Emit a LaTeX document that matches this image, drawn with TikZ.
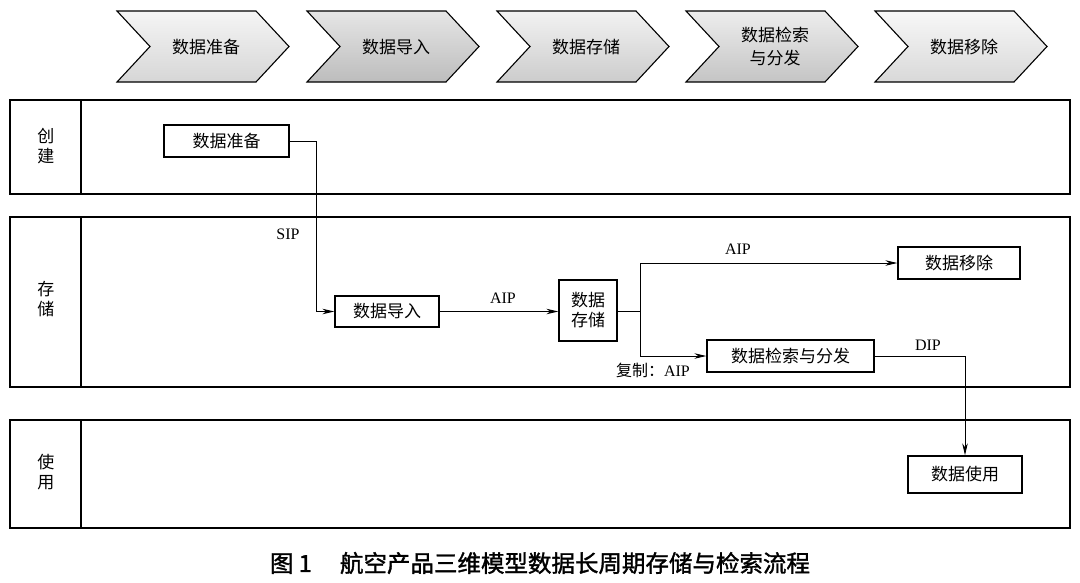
\documentclass[tikz,border=0pt]{standalone}
\usepackage{fontspec}
\setmainfont{Liberation Serif}
\newfontfamily\cjk{Noto Sans CJK SC}
\newfontfamily\cjkcap[FakeBold=1.5]{Noto Sans CJK SC}
\usetikzlibrary{arrows.meta}
\begin{document}
\begin{tikzpicture}[x=1pt,y=-1pt,
  box/.style={draw, line width=1.3pt, inner sep=0pt, align=center, font=\cjk\fontsize{17}{20}\selectfont},
  lane/.style={draw, line width=1.8pt},
  lanelbl/.style={align=center, font=\cjk\fontsize{17}{20.5}\selectfont},
  conn/.style={line width=0.9pt, -{Stealth[length=12pt,width=5.5pt]}},
  lbl/.style={font=\fontsize{16}{18}\selectfont, inner sep=0pt},
  chev/.style={draw, line width=1.1pt, line join=miter},
  chevtxt/.style={align=center, font=\cjk\fontsize{17}{23}\selectfont}]
\useasboundingbox (0,0) rectangle (1080,582);
\fill[white] (0,0) rectangle (1080,582);

% chevrons
\foreach \x/\t/\b/\n/\txt in {117/8/32/c1/{数据准备}, 307/20/52/c2/{数据导入}, 497/10/40/c3/{数据存储}, 686/14/46/c4/{数据检索\\与分发}, 875/6/30/c5/{数据移除}}{
  \shade[top color=gray!\t, bottom color=gray!\b] (\x,11) -- ++(139,0) -- ++(33,35.5) -- ++(-33,35.5) -- ++(-139,0) -- ++(33,-35.5) -- cycle;
  \draw[chev] (\x,11) -- ++(139,0) -- ++(33,35.5) -- ++(-33,35.5) -- ++(-139,0) -- ++(33,-35.5) -- cycle;
  \node[chevtxt] (\n) at (\x+89,47) {\txt};
}

% lanes
\draw[lane] (10,100) rectangle (1070,194);
\draw[lane] (81,100) -- (81,194);
\draw[lane] (10,217) rectangle (1070,387);
\draw[lane] (81,217) -- (81,387);
\draw[lane] (10,420) rectangle (1070,528);
\draw[lane] (81,420) -- (81,528);
\node[lanelbl] (l1) at (46,146) {创\\建};
\node[lanelbl] (l2) at (46,299) {存\\储};
\node[lanelbl] (l3) at (46,472) {使\\用};

% boxes
\node[box, minimum width=125pt, minimum height=32pt] (prep) at (226.5,141) {数据准备};
\node[box, minimum width=104pt, minimum height=31pt] (imp) at (387,311.5) {数据导入};
\node[box, minimum width=58pt, minimum height=61pt] (sto) at (588,310.5) {数据\\存储};
\node[box, minimum width=122pt, minimum height=32pt] (rem) at (959,263) {数据移除};
\node[box, minimum width=167pt, minimum height=32pt] (ret) at (790.5,356) {数据检索与分发};
\node[box, minimum width=114pt, minimum height=37pt] (use) at (965,474.5) {数据使用};

% connectors
\coordinate (bend1) at (316,141);
\coordinate (split) at (640,311.5);
\draw[conn] (prep.east) -- (bend1) |- (imp.west);
\draw[conn] (imp.east) -- (imp.east -| sto.west);
\draw[line width=0.9pt] (sto.east |- split) -- (split);
\draw[conn] (split) |- (rem.west);
\draw[conn] (split) |- (ret.west);
\draw[conn] (ret.east) -| (use.north);

% labels
\node[lbl] (sip) at (288,234) {SIP};
\node[lbl] (aip1) at (503,298) {AIP};
\node[lbl] (aip2) at (738,249) {AIP};
\node[lbl] (aip3) at (653,370) {{\cjk 复制：}AIP};
\node[lbl] (dip) at (928,345) {DIP};

% caption
\node[font=\cjkcap\fontsize{23.5}{26}\selectfont] (cap) at (540,563) {图 1\hspace{1.2em}航空产品三维模型数据长周期存储与检索流程};
\end{tikzpicture}
\end{document}
